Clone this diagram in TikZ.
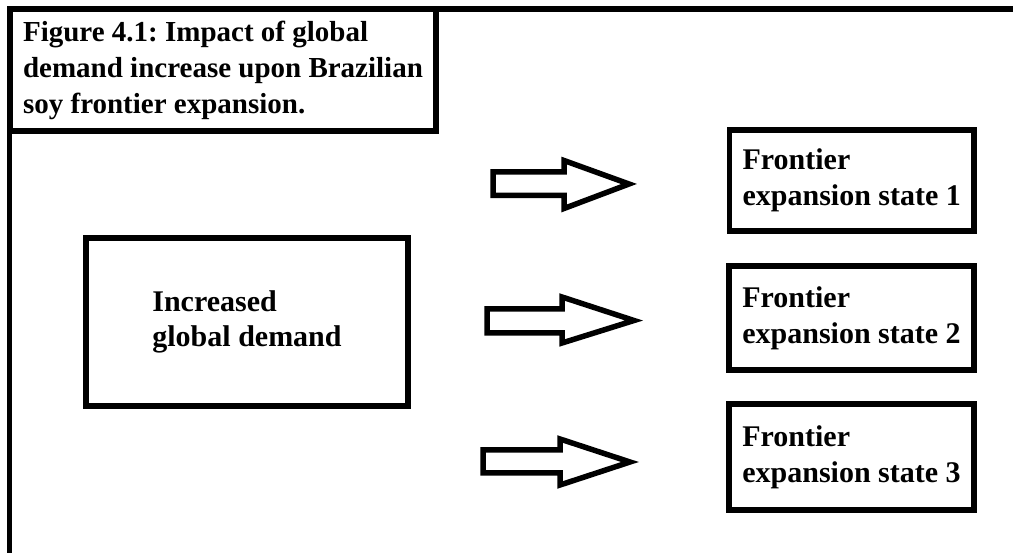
\documentclass[tikz,border=0pt]{standalone}
\usepackage{fontspec}
\setmainfont{Liberation Serif}
\frenchspacing
\begin{document}
\begin{tikzpicture}[x=1pt,y=-1pt,
  frame/.style={line width=5.5pt},
  box/.style={draw,line width=5.5pt,inner sep=0pt,align=left,
    font=\bfseries\fontsize{30}{36}\selectfont},
  blockarrow/.style={draw,line width=5.5pt,line join=miter}]
\useasboundingbox (0,0) rectangle (1013,553);
\draw[frame] (9.5,553) -- (9.5,9) -- (1013,9);
\node[box, minimum width=426pt, minimum height=122pt,
  font=\bfseries\fontsize{29}{36}\selectfont] (title) at (223,70)
  {Figure 4.1: Impact of global\\demand increase upon Brazilian\\soy frontier expansion.};
\node[box, minimum width=322pt, minimum height=168pt,
  font=\bfseries\fontsize{30}{35}\selectfont] (demand) at (247,322)
  {Increased\\global demand};
\node[box, minimum width=244.5pt, minimum height=101pt] (state1) at (851.75,180.5)
  {Frontier\\expansion state 1};
\node[box, minimum width=245pt, minimum height=104pt] (state2) at (851.5,318)
  {Frontier\\expansion state 2};
\node[box, minimum width=245pt, minimum height=105.5pt] (state3) at (851.5,457)
  {Frontier\\expansion state 3};
\draw[blockarrow] (493,172) -- (564,172) -- (564,160.5) -- (629,184) -- (564,208.5) -- (564,195.5) -- (493,195.5) -- cycle;
\draw[blockarrow] (487,309) -- (562,309) -- (562,297) -- (634,320.5) -- (562,343) -- (562,333) -- (487,333) -- cycle;
\draw[blockarrow] (483,450) -- (560,450) -- (560,439) -- (630,462) -- (560,485) -- (560,473) -- (483,473) -- cycle;
\end{tikzpicture}
\end{document}
